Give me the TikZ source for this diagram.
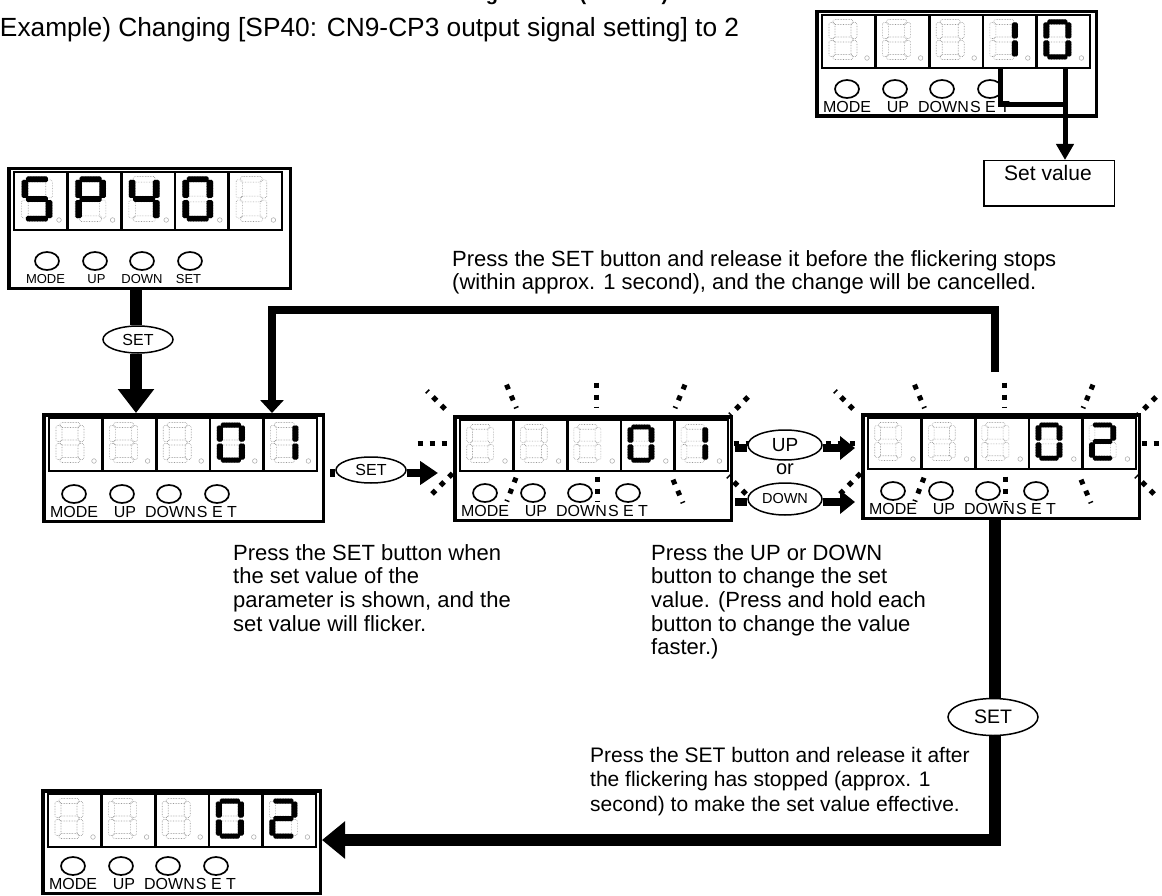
\documentclass[tikz,border=0pt]{standalone}
\usepackage{fontspec}
\setmainfont{Liberation Sans}
\usetikzlibrary{arrows.meta,shapes.geometric}

% seven segments of one digit, box 28 x 40
\newcommand\segpa{(4,0) rectangle (24,5)}
\newcommand\segpg{(4,17.5) rectangle (24,22.5)}
\newcommand\segpd{(4,35) rectangle (24,40)}
\newcommand\segpf{(0,3) rectangle (6,19)}
\newcommand\segpb{(22,3) rectangle (28,19)}
\newcommand\segpe{(0,21) rectangle (6,37)}
\newcommand\segpc{(22,21) rectangle (28,37)}
\newcommand\segpn{}

\newcommand\lblfont{\fontsize{16}{18}\selectfont}
\newcommand\lblset{S E T}
\newcommand\btnoff{0}
\newcommand\lbloff{0}

\tikzset{
    panelframe/.style={draw, line width=3.5pt, inner sep=0pt, fill=white},
    dispbox/.style={draw, line width=2.6pt},
    segoff/.style={draw=gray!80, line width=.6pt, densely dotted, rounded corners=1.5pt},
    segon/.style={fill=black, rounded corners=1.5pt},
    btn/.style={draw, line width=1.7pt},
    btnlabel/.style={inner sep=0pt},
    bodytext/.style={anchor=north west, inner sep=0pt, align=left,
                     font=\fontsize{22}{23.7}\selectfont},
    press/.style={draw, ellipse, fill=white, line width=1.5pt, inner sep=0pt},
    flick/.style={line width=5pt, dash pattern=on 5pt off 7pt on 5pt off 7pt on 1.5pt off 20pt},
    flickfull/.style={line width=5pt, dash pattern=on 5pt off 7pt},
    link/.style={line width=7.5pt},
    linkfat/.style={line width=12pt},
}

% [frame width]{name}{x}{y}{frame height}{display height}, digits from \digitlist
\newcommand\lcdpanel[6][281]{
    \node[panelframe, minimum width=#1pt-3.5pt, minimum height=#5pt-3.5pt] (#2)
        at (#3+#1/2, #4+#5/2) {};
    \begin{scope}[shift={(#3+7, #4+5)}]
        \pgfmathsetmacro\dgtx{#6/53}
        \pgfmathsetmacro\dgty{(#6-13)/40}
        \foreach \on [count=\n from 0] in \digitlist {
            \begin{scope}[shift={(\n*53.6+7*\dgtx, 4.5)}, xscale=\dgtx, yscale=\dgty]
                \foreach \s in {a,b,c,d,e,f,g} {
                    \expandafter\let\expandafter\segcur\csname segp\s\endcsname
                    \draw[segoff] \segcur;
                }
                \foreach \s in \on {
                    \expandafter\let\expandafter\segcur\csname segp\s\endcsname
                    \fill[segon] \segcur;
                }
            \end{scope}
            \draw[draw=gray!70, line width=.5pt] (\n*53.6+45, #6-10) circle (2.3pt);
        }
        \draw[dispbox] (0,0) rectangle (268,#6);
        \foreach \n in {1,...,4}
            \draw[dispbox] (\n*53.6,0) -- (\n*53.6,#6);
    \end{scope}
    \begin{scope}[shift={(#3, #4+#5)}]
        \foreach \bx/\lx/\ltxt [count=\k] in {32/32/MODE, 80/83/UP, 127/128.5/DOWN, 175/175/\lblset} {
            \draw[btn] (\bx+\btnoff,-29) ellipse (12pt and 9pt);
            \node[btnlabel, font=\lblfont] (#2l\k) at (\lx+\lbloff,-11) {\ltxt};
        }
    \end{scope}
}

\begin{document}
\begin{tikzpicture}[x=1pt, y=-1pt]
\useasboundingbox (0,0) rectangle (1162,896);
\clip (0,0) rectangle (1162,896);

% Head
\node[inner sep=0pt, anchor=base, font=\fontsize{20}{24}\selectfont\bfseries] (headg) at (492,1) {g};
\node[inner sep=0pt, anchor=base, font=\fontsize{20}{24}\selectfont\bfseries] (heado) at (583,1) {(};
\node[inner sep=0pt, anchor=base, font=\fontsize{20}{24}\selectfont\bfseries] (headc) at (665,1) {)};
\node[inner sep=0pt, anchor=base west, font=\fontsize{26.3}{28}\selectfont] (example) at (-9,37)
    {(Example) Changing [SP40: CN9-CP3 output signal setting] to 2};

% Panels
\def\digitlist{{n},{n},{n},{b,c},{a,b,c,d,e,f}}
\lcdpanel[283]{panelKey}{815}{10}{108}{53}
\begingroup
\def\digitlist{{a,f,g,c,d},{a,b,e,f,g},{b,c,f,g},{a,b,c,d,e,f},{n}}
\def\lblfont{\fontsize{13}{15}\selectfont}
\def\lblset{SET}
\def\btnoff{8}
\def\lbloff{6.5}
\lcdpanel[285]{panelSP}{7}{167}{123}{58}
\endgroup
\def\digitlist{{n},{n},{n},{a,b,c,d,e,f},{b,c}}
\lcdpanel[283]{panelOld}{42}{413}{110}{53}
\lcdpanel[280]{panelFlick}{453}{415}{107}{51}
\def\digitlist{{n},{n},{n},{a,b,c,d,e,f},{a,b,g,e,d}}
\lcdpanel[280]{panelNew}{861}{413}{107}{51}
\lcdpanel{panelDone}{41}{789}{106}{53}

% Flicker marks
\foreach \ox in {0,408} {
    \begin{scope}[xshift=\ox pt]
        \foreach \xa/\ya/\xb/\yb in {445/409/426/390, 506.5/384.7/516.5/408.2, 596/382.5/596/408,
                685/384.7/675/408.2, 748/397/730/415, 516/477.7/506.8/501.4,
                597/476.5/597/502, 673/479.7/683/503, 746/494/728/476}
            \draw[flick] (\xa,\ya) -- (\xb,\yb);
        \foreach \xa/\ya/\xb/\yb in {417.5/443/446.5/443, 733.5/443/762.5/443, 432/494/453/473}
            \draw[flickfull] (\xa,\ya) -- (\xb,\yb);
    \end{scope}
}

% Set value pointer
\coordinate (keyl) at (1000,67);
\coordinate (keyc) at (1000,105);
\coordinate (keyr) at (1065,105);
\coordinate (keyt) at (1065,68);
\node[draw, line width=1.5pt, minimum width=132pt-1.5pt, minimum height=47pt-1.5pt, inner sep=0pt] (valbox) at (1049,183.5) {};
\node[inner sep=0pt, font=\fontsize{21}{24}\selectfont] (valtxt) at (1048,173) {Set value};
\draw[line width=5pt] (keyl) -- (keyc) -- (keyr);
\draw[line width=5pt, -{Triangle[length=16pt,width=17pt]}] (keyt) -- (valbox.north -| keyt);

% SET to the parameter value
\node[press, minimum width=70pt, minimum height=27pt, font=\fontsize{16}{18}\selectfont] (setA) at (138,339.5) {SET};
\coordinate (spdown) at (136,339);
\draw[linkfat] (panelSP.south -| spdown) -- (setA.north -| spdown);
\draw[linkfat, -{Triangle[length=24pt,width=35pt]}] (setA.south -| spdown) -- (panelOld.north -| spdown);

% SET to flicker
\coordinate (oldout) at (330,473);
\coordinate (flickin) at (438,473);
\node[press, minimum width=70pt, minimum height=26pt, font=\fontsize{16}{18}\selectfont] (setB) at (371,470) {SET};
\draw[link] (oldout) -- (setB.west |- oldout);
\draw[link, -{Triangle[length=18pt,width=23pt]}] (setB.east |- oldout) -- (flickin);

% UP or DOWN
\coordinate (upout) at (735,448);
\coordinate (upin) at (855,448);
\coordinate (downout) at (735,502);
\coordinate (downin) at (855,502);
\node[press, minimum width=74pt, minimum height=30pt, font=\fontsize{19}{21}\selectfont] (up) at (785,445) {UP};
\node[inner sep=0pt, font=\fontsize{20}{22}\selectfont] (or) at (785,469) {or};
\node[press, minimum width=74pt, minimum height=32pt, font=\fontsize{14.5}{16}\selectfont] (down) at (785,499) {DOWN};
\draw[link] (upout) -- (up.west |- upout);
\draw[link, -{Triangle[length=15pt,width=23pt]}] (up.east |- upout) -- (upin);
\draw[link] (downout) -- (down.west |- downout);
\draw[link, -{Triangle[length=15pt,width=23pt]}] (down.east |- downout) -- (downin);

% Cancel path
\coordinate (cancelt) at (995,372);
\coordinate (cancelc) at (995,310);
\coordinate (canceld) at (272,310);
\draw[line width=8pt, -{Triangle[length=13pt,width=23pt]}] (cancelt) -- (cancelc) -- (canceld) -- (panelOld.north -| canceld);

% Effective path
\coordinate (effc) at (995,840);
\node[press, minimum width=90pt, minimum height=37pt, font=\fontsize{19.5}{21}\selectfont] (setC) at (993,717) {SET};
\draw[linkfat] (panelNew.south -| effc) -- (setC.north -| effc);
\draw[linkfat, -{Triangle[length=23pt,width=36pt]}] (setC.south -| effc) -- (effc) -- (panelDone.east |- effc);

% Texts
\node[bodytext] (cancelnote) at (452,250) {Press the SET button and release it before the flickering stops\\
    (within approx. 1 second), and the change will be cancelled.};
\node[bodytext] (setnote) at (233,544) {Press the SET button when\\the set value of the\\
    parameter is shown, and the\\set value will flicker.};
\node[bodytext] (upnote) at (651,544) {Press the UP or DOWN\\button to change the set\\
    value. (Press and hold each\\button to change the value\\faster.)};
\node[bodytext, font=\fontsize{21}{24.3}\selectfont] (effnote) at (590,747) {Press the SET button and release it after\\
    the flickering has stopped (approx. 1\\second) to make the set value effective.};

\end{tikzpicture}
\end{document}
